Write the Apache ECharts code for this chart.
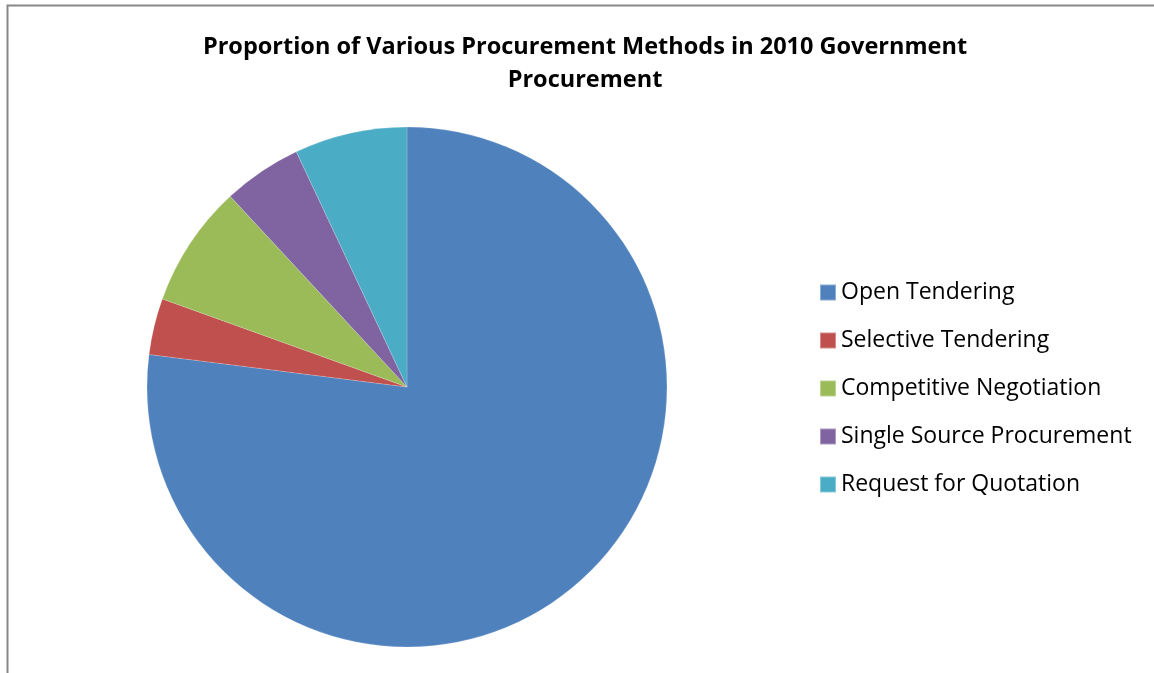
<!DOCTYPE html>
<html>
<head>
<meta charset="utf-8">
<title>Proportion of Various Procurement Methods in 2010 Government Procurement</title>
<script src="https://cdn.jsdelivr.net/npm/echarts@6/dist/echarts.min.js"></script>
<style>
  html, body { margin: 0; padding: 0; background: #ffffff; }
  #chart { width: 1154px; height: 673px; }
</style>
</head>
<body>
<div id="chart"></div>
<script>
// Procurement methods and their share (%) of 2010 government procurement
const methods = [
  'Open Tendering',
  'Selective Tendering',
  'Competitive Negotiation',
  'Single Source Procurement',
  'Request for Quotation'
];
const shares = [77.0, 3.5, 7.6, 4.9, 7.0];
const sliceColors = ['#4F81BD', '#C0504D', '#9BBB59', '#8064A2', '#4BACC6'];

const chart = echarts.init(document.getElementById('chart'), null, { renderer: 'canvas' });

const FONT = '"Open Sans", Lato, "Liberation Sans", sans-serif';

chart.setOption({
  animation: false,
  backgroundColor: '#ffffff',
  color: sliceColors,
  title: {
    text: 'Proportion of Various Procurement Methods in 2010 Government\nProcurement',
    left: 580,
    top: 26,
    textAlign: 'center',
    textStyle: {
      fontFamily: FONT,
      fontWeight: 'bold',
      fontSize: 23.5,
      lineHeight: 33,
      color: '#000000'
    }
  },
  legend: {
    orient: 'vertical',
    left: 814,
    top: 276,
    icon: 'rect',
    itemWidth: 16,
    itemHeight: 16,
    itemGap: 25,
    data: methods,
    textStyle: {
      fontFamily: FONT,
      fontSize: 23,
      lineHeight: 23,
      color: '#000000'
    }
  },
  graphic: [{
    type: 'rect',
    silent: true,
    shape: { x: 7.5, y: 5.5, width: 1300, height: 900 },
    style: { fill: 'none', stroke: '#878787', lineWidth: 2 }
  }],
  series: [{
    type: 'pie',
    center: [407, 387],
    radius: 260,
    startAngle: 90,
    clockwise: true,
    label: { show: false },
    labelLine: { show: false },
    emphasis: { disabled: true },
    itemStyle: { borderColor: 'rgba(255,255,255,0.35)', borderWidth: 0.5 },
    data: methods.map((name, i) => ({ name, value: shares[i] }))
  }]
});
</script>
</body>
</html>
